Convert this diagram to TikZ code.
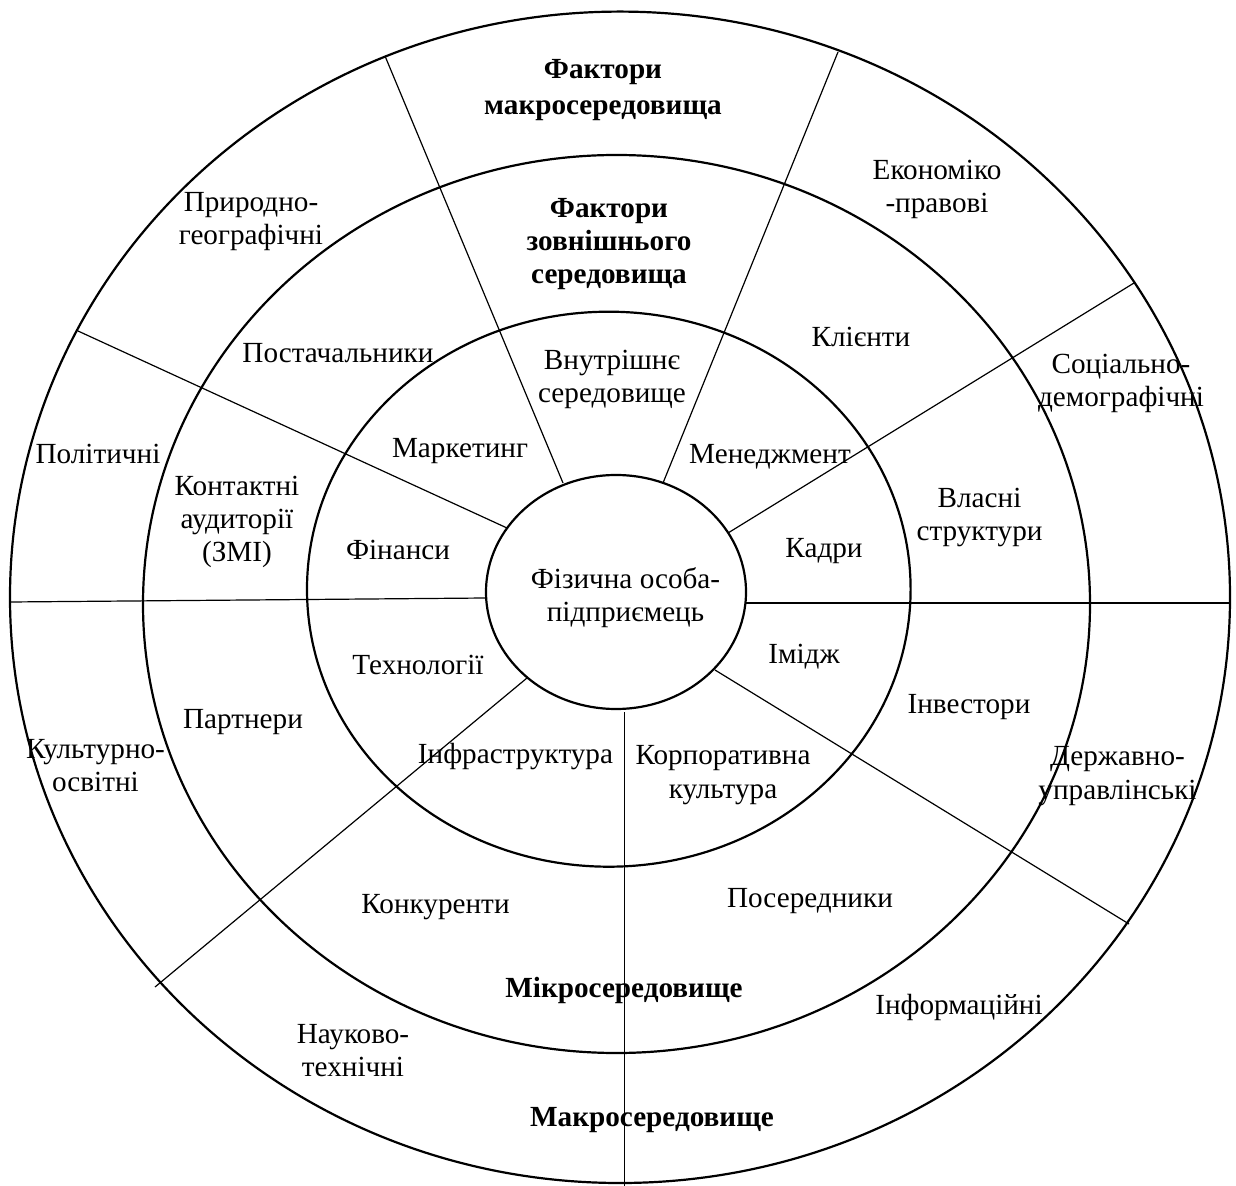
\documentclass[tikz,border=0pt]{standalone}
\usepackage{fontspec}
\setmainfont{Liberation Serif}
\tikzset{
    ring/.style={line width=1.1pt},
    spoke/.style={line width=0.6pt},
    lbl/.style={font=\fontsize{14.6}{16.6}\selectfont, align=center, inner sep=0pt, anchor=base},
    heading/.style={lbl, font=\fontsize{14.6}{16.6}\selectfont\bfseries}
}
\begin{document}
\begin{tikzpicture}[x=0.5pt,y=-0.5pt]
    \useasboundingbox (0,0) rectangle (1236,1186);

    \draw[ring] (620,597.3) ellipse [x radius=610,   y radius=585.7];
    \draw[ring] (616.5,604) ellipse [x radius=473.5, y radius=449];
    \draw[ring] (608.8,589.2) ellipse [x radius=301.8, y radius=277.5];
    \draw[ring] (616,592) ellipse [x radius=130,   y radius=117];

    \coordinate (a1) at (563,483);   \coordinate (b1) at (385,56);
    \coordinate (a2) at (507,528);   \coordinate (b2) at (78,331);
    \coordinate (a3) at (486,598);   \coordinate (b3) at (10,602);
    \coordinate (a4) at (527,678);   \coordinate (b4) at (155,987);
    \coordinate (a5) at (624.3,712); \coordinate (b5) at (624.3,1186);
    \coordinate (a6) at (715,670);   \coordinate (b6) at (1129,924);
    \coordinate (a7) at (746,603);   \coordinate (b7) at (1230,603);
    \coordinate (a8) at (728,533);   \coordinate (b8) at (1134,283);
    \coordinate (a9) at (663,483);   \coordinate (b9) at (838,52);

    \draw[spoke] (a1) -- (b1);
    \draw[spoke] (a2) -- (b2);
    \draw[spoke] (a3) -- (b3);
    \draw[spoke] (a4) -- (b4);
    \draw[spoke] (a5) -- (b5);
    \draw[spoke] (a6) -- (b6);
    \draw[spoke] (a7) -- (b7);
    \draw[spoke] (a8) -- (b8);
    \draw[spoke] (a9) -- (b9);

    \node[heading] (faktmakro) at (603,115)    {Фактори\\[1.6pt]макросередовища};
    \node[heading] (faktzovn)  at (609,283.5)  {Фактори\\зовнішнього\\середовища};
    \node[lbl]     (vnutr)     at (612,402.5)  {Внутрішнє\\середовище};
    \node[lbl]     (pryrod)    at (251,245)    {Природно-\\географічні};
    \node[lbl]     (ekonom)    at (937,212.6)  {Економіко\\-правові};
    \node[lbl]     (postach)   at (338,363)    {Постачальники};
    \node[lbl]     (kliienty)  at (861,347)    {Клієнти};
    \node[lbl]     (sotsial)   at (1121,407)   {Соціально-\\демографічні};
    \node[lbl]     (politych)  at (98,463.6)   {Політичні};
    \node[lbl]     (kontakt)   at (237,562)    {Контактні\\аудиторії\\(ЗМІ)};
    \node[lbl]     (marketyng) at (460,458)    {Маркетинг};
    \node[lbl]     (menedzh)   at (770,463.6)  {Менеджмент};
    \node[lbl]     (vlasni)    at (979.5,541)  {Власні\\структури};
    \node[lbl]     (finansy)   at (398,560)    {Фінанси};
    \node[lbl]     (kadry)     at (824,557.5)  {Кадри};
    \node[lbl]     (fizosoba)  at (625.5,622)  {Фізична особа-\\підприємець};
    \node[lbl]     (tekhnol)   at (418,674.4)  {Технології};
    \node[lbl]     (imidzh)    at (804,663)    {Імідж};
    \node[lbl]     (partnery)  at (243,728.8)  {Партнери};
    \node[lbl]     (investory) at (969,713.6)  {Інвестори};
    \node[lbl]     (kultur)    at (95.5,791.5) {Культурно-\\освітні};
    \node[lbl]     (infra)     at (515.5,763)  {Інфраструктура};
    \node[lbl]     (korpor)    at (723,798)    {Корпоративна\\культура};
    \node[lbl]     (derzh)     at (1117.5,799) {Державно-\\управлінські};
    \node[lbl]     (konkur)    at (435.5,913)  {Конкуренти};
    \node[lbl]     (poser)     at (810,907.5)  {Посередники};
    \node[heading] (mikro)     at (624,997)    {Мікросередовище};
    \node[lbl]     (inform)    at (959,1014)   {Інформаційні};
    \node[lbl]     (naukovo)   at (353,1076.7) {Науково-\\технічні};
    \node[heading] (makro)     at (652,1126)   {Макросередовище};
\end{tikzpicture}
\end{document}
